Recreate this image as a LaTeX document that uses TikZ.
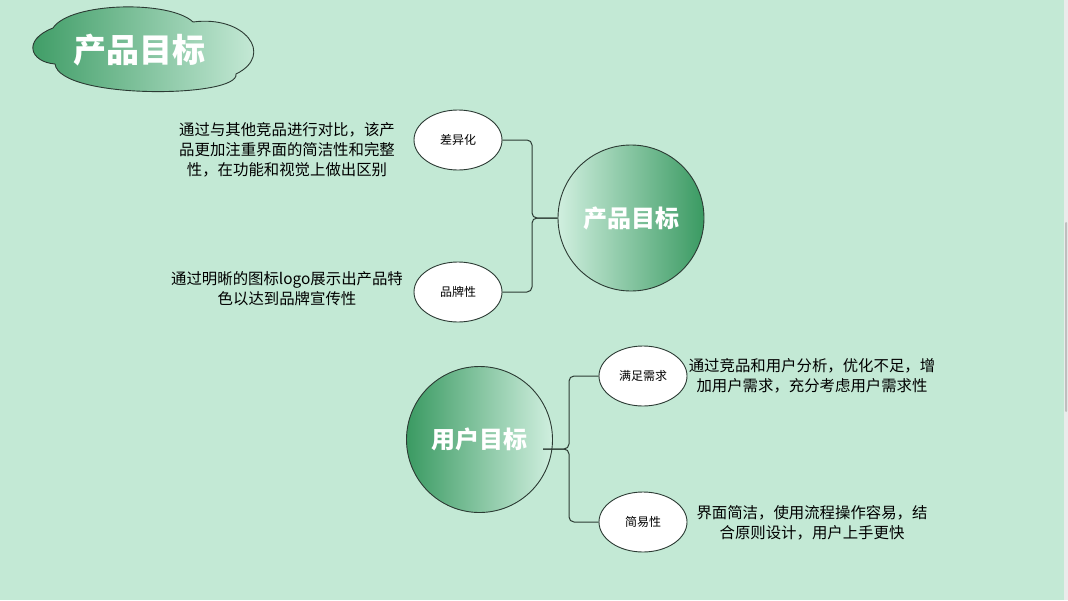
\documentclass[tikz,border=0pt]{standalone}
\usepackage{fontspec}
\setmainfont{Noto Sans CJK SC}
\usetikzlibrary{shapes.geometric}
\definecolor{bg}{HTML}{C3E9D5}
\definecolor{dkg}{HTML}{3A9A62}
\definecolor{ltg}{HTML}{D0EFDF}
\definecolor{edge}{HTML}{2B3A33}
\begin{document}
\begin{tikzpicture}[x=1pt,y=-1pt,
  oval/.style={ellipse, draw=edge, line width=0.9pt, fill=white, minimum width=88pt, minimum height=60pt, inner sep=0pt, font=\fontsize{12}{13}\selectfont},
  goal/.style={circle, draw=edge, line width=0.9pt, minimum size=146pt, inner sep=0pt, text=white, font=\fontsize{24}{26}\selectfont\bfseries},
  desc/.style={align=center, font=\fontsize{15.4}{20}\selectfont, text=black},
  link/.style={draw=edge, line width=1pt, rounded corners=5pt}]
\useasboundingbox (0,0) rectangle (1068,600);
\fill[bg] (0,0) rectangle (1068,600);
\fill[black!8!white] (1064,0) rectangle (1068,600);
\fill[black!25, rounded corners=1pt] (1065,222) rectangle (1067,412);

% title cloud
\draw[edge, line width=0.9pt, left color=dkg, right color=ltg]
  (53,28) .. controls (70,2) and (170,0) .. (193,22)
  .. controls (245,15) and (275,55) .. (236,74)
  .. controls (240,98) and (60,100) .. (55,64)
  .. controls (30,62) and (22,40) .. (53,28) -- cycle;
\node[text=white, font=\fontsize{33}{35}\selectfont\bfseries] (title) at (139,50) {产品目标};

% product goal
\node[goal, left color=ltg, right color=dkg] (p) at (631,218) {产品目标};
\node[oval] (d1) at (458,140) {差异化};
\node[oval] (d2) at (458,292) {品牌性};
\coordinate (pj) at (532,218);
\draw[link] (d1.east) -- (pj |- d1.east) -- (pj) -- (p.west);
\draw[link] (d2.east) -- (pj |- d2.east) -- (pj) -- (p.west);
\node[desc] (t1) at (287,150) {通过与其他竞品进行对比，该产\\品更加注重界面的简洁性和完整\\性，在功能和视觉上做出区别};
\node[desc] (t2) at (287,289) {通过明晰的图标logo展示出产品特\\色以达到品牌宣传性};

% user goal
\node[goal, left color=dkg, right color=ltg] (u) at (479.5,439.5) {用户目标};
\node[oval] (n1) at (643,376) {满足需求};
\node[oval] (n2) at (643,522) {简易性};
\coordinate (us) at (543,449);
\coordinate (uj) at (569,449);
\draw[link] (us) -- (uj) -- (uj |- n1.west) -- (n1.west);
\draw[link] (us) -- (uj) -- (uj |- n2.west) -- (n2.west);
\node[desc] (t3) at (812,376) {通过竞品和用户分析，优化不足，增\\加用户需求，充分考虑用户需求性};
\node[desc] (t4) at (812,523) {界面简洁，使用流程操作容易，结\\合原则设计，用户上手更快};
\end{tikzpicture}
\end{document}
